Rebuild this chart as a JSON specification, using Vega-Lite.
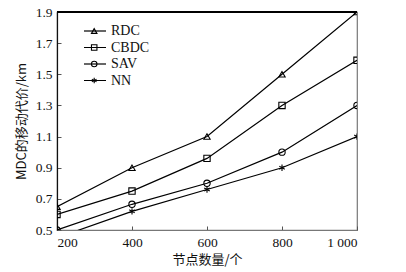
{
  "$schema": "https://vega.github.io/schema/vega-lite/v6.json",
  "width": 300,
  "height": 218,
  "autosize": "none",
  "padding": {"left": 57, "top": 12, "right": 49, "bottom": 42},
  "background": "white",
  "config": {"view": {"stroke": "#777", "strokeWidth": 1.2}, "font": "Liberation Serif"},
  "data": {"values": [
    {"series": "RDC", "n": 200, "cost": 0.65},
    {"series": "RDC", "n": 400, "cost": 0.9},
    {"series": "RDC", "n": 600, "cost": 1.1},
    {"series": "RDC", "n": 800, "cost": 1.5},
    {"series": "RDC", "n": 1000, "cost": 1.9},
    {"series": "CBDC", "n": 200, "cost": 0.6},
    {"series": "CBDC", "n": 400, "cost": 0.75},
    {"series": "CBDC", "n": 600, "cost": 0.96},
    {"series": "CBDC", "n": 800, "cost": 1.3},
    {"series": "CBDC", "n": 1000, "cost": 1.59},
    {"series": "SAV", "n": 200, "cost": 0.5},
    {"series": "SAV", "n": 400, "cost": 0.665},
    {"series": "SAV", "n": 600, "cost": 0.8},
    {"series": "SAV", "n": 800, "cost": 1.0},
    {"series": "SAV", "n": 1000, "cost": 1.3},
    {"series": "NN", "n": 200, "cost": 0.45},
    {"series": "NN", "n": 400, "cost": 0.62},
    {"series": "NN", "n": 600, "cost": 0.76},
    {"series": "NN", "n": 800, "cost": 0.9},
    {"series": "NN", "n": 1000, "cost": 1.1}
  ]},
  "encoding": {
    "x": {
      "field": "n", "type": "quantitative",
      "scale": {"domain": [200, 1000], "nice": false, "zero": false},
      "axis": {
        "values": [200, 400, 600, 800, 1000],
        "labelExpr": "datum.value == 1000 ? '1 000' : datum.label",
        "grid": false, "domainColor": "#777", "domainWidth": 1.2,
        "tickColor": "#555", "tickSize": -4, "labelPadding": 9,
        "labelFont": "Liberation Serif", "labelFontSize": 13.5, "labelColor": "#111",
        "title": "节点数量/个", "titleFont": "Noto Sans CJK SC", "titleFontSize": 13,
        "titleFontWeight": "normal", "titleColor": "#111", "titlePadding": 5
      }
    },
    "y": {
      "field": "cost", "type": "quantitative",
      "scale": {"domain": [0.5, 1.9], "nice": false, "zero": false},
      "axis": {
        "values": [0.5, 0.7, 0.9, 1.1, 1.3, 1.5, 1.7, 1.9],
        "format": ".1f",
        "grid": false, "domainColor": "#111", "domainWidth": 1.2,
        "tickColor": "#555", "tickSize": -4, "labelPadding": 9,
        "labelFont": "Liberation Serif", "labelFontSize": 13.5, "labelColor": "#111",
        "title": "MDC的移动代价/km", "titleFont": "Noto Sans CJK SC", "titleFontSize": 13,
        "titleFontWeight": "normal", "titleColor": "#111", "titlePadding": 7
      }
    }
  },
  "layer": [
    {
      "mark": {"type": "line", "strokeWidth": 1.2, "clip": true},
      "encoding": {
        "color": {
          "field": "series", "type": "nominal",
          "scale": {"domain": ["RDC", "CBDC", "SAV", "NN"], "range": ["black", "black", "black", "black"]},
          "legend": {
            "title": null,
            "orient": "none",
            "legendX": 26,
            "legendY": 12,
            "symbolType": "stroke",
            "symbolSize": 484,
            "symbolStrokeWidth": 1.2,
            "clipHeight": 14,
            "labelFont": "Liberation Serif",
            "labelFontSize": 14,
            "labelColor": "#111",
            "labelOffset": 4,
            "rowPadding": 2.5
          }
        }
      }
    },
    {
      "mark": {"type": "point", "filled": false, "color": "black", "strokeWidth": 1.1, "size": 40, "opacity": 1, "clip": true},
      "encoding": {
        "shape": {
          "field": "series", "type": "nominal",
          "scale": {
            "domain": ["RDC", "CBDC", "SAV", "NN"],
            "range": ["triangle-up", "square", "circle", "M0,-1L0,1M-0.87,-0.5L0.87,0.5M-0.87,0.5L0.87,-0.5"]
          },
          "legend": {
            "title": null,
            "orient": "top-left",
            "offset": 12,
            "symbolOffset": 18.2,
            "labelExpr": "''",
            "labelFontSize": 14,
            "clipHeight": 14,
            "symbolSize": 30,
            "symbolStrokeColor": "black",
            "symbolStrokeWidth": 1.1,
            "symbolFillColor": "white",
            "symbolOpacity": 1,
            "rowPadding": 2.5
          }
        }
      }
    },
    {
      "mark": {"type": "rule", "color": "black", "strokeWidth": 1.3},
      "encoding": {"x": {"datum": 200}, "x2": {"datum": 1000}, "y": {"datum": 1.9}}
    }
  ]
}
